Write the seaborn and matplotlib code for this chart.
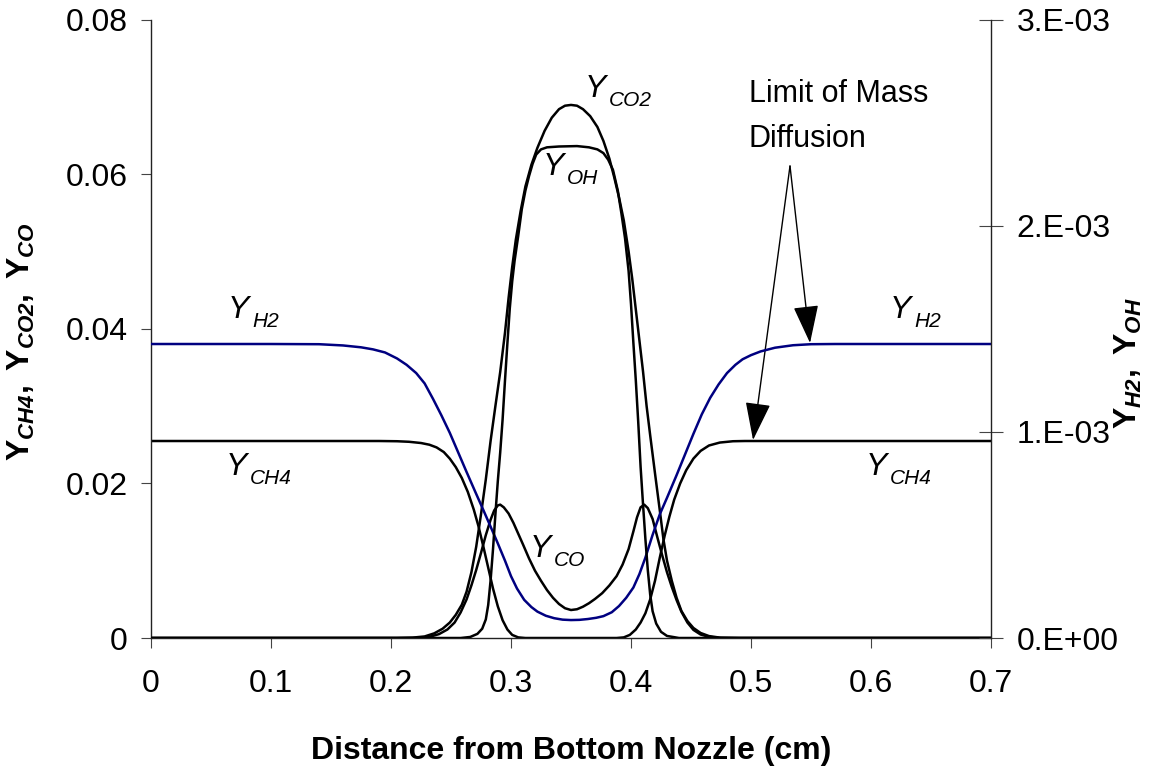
import matplotlib
matplotlib.use("Agg")
import matplotlib.pyplot as plt
import pandas as pd
import seaborn as sns

# ---- profiles across the gap (x in cm) ----
# left axis: mass fractions of CH4, CO2, CO
ch4_x = [0.000, 0.190, 0.205, 0.215, 0.225, 0.232, 0.238, 0.244, 0.249, 0.254, 0.259, 0.264,
         0.269, 0.273, 0.277, 0.281, 0.285, 0.289, 0.293, 0.297, 0.301, 0.306, 0.312,
         0.388, 0.394, 0.399, 0.404, 0.408, 0.412, 0.416, 0.420, 0.424, 0.428, 0.432, 0.436,
         0.441, 0.446, 0.452, 0.458, 0.465, 0.474, 0.485, 0.495, 0.700]
ch4_y = [0.02548, 0.02548, 0.02545, 0.02538, 0.02522, 0.02500, 0.02465, 0.02405, 0.02320,
         0.02210, 0.02070, 0.01890, 0.01660, 0.01440, 0.01180, 0.00910, 0.00640, 0.00410,
         0.00230, 0.00110, 0.00040, 0.00008, 0.0,
         0.0, 0.00008, 0.00040, 0.00110, 0.00200, 0.00320, 0.00500, 0.00740, 0.01040, 0.01320,
         0.01570, 0.01790, 0.02000, 0.02170, 0.02320, 0.02420, 0.02490, 0.02528, 0.02545,
         0.02548, 0.02548]

co2_x = [0.000, 0.205, 0.218, 0.228, 0.236, 0.243, 0.249, 0.254, 0.259, 0.263, 0.267, 0.271,
         0.275, 0.279, 0.283, 0.287, 0.291, 0.295, 0.298, 0.301, 0.304, 0.308, 0.312, 0.317,
         0.322, 0.328, 0.334, 0.340, 0.345, 0.350, 0.355, 0.360, 0.366, 0.372, 0.377, 0.382,
         0.386, 0.390, 0.394, 0.398, 0.401, 0.404, 0.407, 0.410, 0.413, 0.416, 0.420, 0.424,
         0.427, 0.430, 0.434, 0.438, 0.442, 0.447, 0.452, 0.458, 0.465, 0.474, 0.490, 0.700]
co2_y = [0.0, 0.0, 0.00005, 0.00020, 0.00060, 0.00120, 0.00200, 0.00300, 0.00430, 0.00600,
         0.00850, 0.01180, 0.01600, 0.02050, 0.02550, 0.03000, 0.03440, 0.03950, 0.04400,
         0.04800, 0.05150, 0.05520, 0.05840, 0.06120, 0.06340, 0.06560, 0.06730, 0.06840,
         0.06885, 0.06895, 0.06885, 0.06840, 0.06750, 0.06610, 0.06430, 0.06200, 0.05960,
         0.05700, 0.05400, 0.05000, 0.04650, 0.04250, 0.03850, 0.03450, 0.03000, 0.02620,
         0.02130, 0.01650, 0.01280, 0.01000, 0.00740, 0.00520, 0.00350, 0.00220, 0.00130,
         0.00065, 0.00025, 0.00005, 0.0, 0.0]

co_x = [0.000, 0.222, 0.232, 0.240, 0.247, 0.253, 0.258, 0.263, 0.267, 0.271, 0.275, 0.279,
        0.283, 0.286, 0.289, 0.291, 0.294, 0.298, 0.302, 0.306, 0.310, 0.315, 0.320, 0.325,
        0.330, 0.335, 0.340, 0.345, 0.350, 0.355, 0.360, 0.365, 0.370, 0.376, 0.382, 0.388,
        0.393, 0.398, 0.402, 0.405, 0.408, 0.411, 0.414, 0.418, 0.422, 0.426, 0.430, 0.434,
        0.438, 0.442, 0.447, 0.452, 0.458, 0.465, 0.475, 0.700]
co_y = [0.0, 0.0, 0.00015, 0.00050, 0.00110, 0.00200, 0.00330, 0.00500, 0.00680, 0.00880,
        0.01100, 0.01330, 0.01530, 0.01650, 0.01715, 0.01725, 0.01690, 0.01610, 0.01490,
        0.01350, 0.01210, 0.01030, 0.00870, 0.00740, 0.00620, 0.00520, 0.00440, 0.00385,
        0.00362, 0.00372, 0.00405, 0.00450, 0.00505, 0.00580, 0.00680, 0.00800, 0.00950,
        0.01150, 0.01380, 0.01560, 0.01690, 0.01725, 0.01680, 0.01540, 0.01300, 0.01070,
        0.00850, 0.00660, 0.00490, 0.00340, 0.00200, 0.00105, 0.00045, 0.00015, 0.0, 0.0]

# right axis: mass fractions of H2 and OH
h2_x = [0.000, 0.100, 0.140, 0.160, 0.175, 0.185, 0.195, 0.205, 0.213, 0.221, 0.228, 0.235,
        0.242, 0.249, 0.256, 0.263, 0.270, 0.277, 0.283, 0.289, 0.295, 0.300, 0.305, 0.311,
        0.317, 0.322, 0.329, 0.336, 0.343, 0.350, 0.357, 0.364, 0.371, 0.377, 0.384, 0.390,
        0.396, 0.402, 0.407, 0.412, 0.418, 0.424, 0.430, 0.438, 0.445, 0.452, 0.459, 0.466,
        0.473, 0.480, 0.487, 0.493, 0.500, 0.508, 0.520, 0.535, 0.550, 0.570, 0.700]
h2_y = [1.426e-3, 1.426e-3, 1.425e-3, 1.419e-3, 1.410e-3, 1.400e-3, 1.385e-3, 1.356e-3,
        1.325e-3, 1.285e-3, 1.235e-3, 1.160e-3, 1.080e-3, 0.995e-3, 0.900e-3, 0.805e-3,
        0.712e-3, 0.620e-3, 0.540e-3, 0.459e-3, 0.375e-3, 0.300e-3, 0.240e-3, 0.185e-3,
        0.150e-3, 0.128e-3, 0.108e-3, 0.096e-3, 0.089e-3, 0.087e-3, 0.088e-3, 0.092e-3,
        0.098e-3, 0.106e-3, 0.125e-3, 0.155e-3, 0.195e-3, 0.245e-3, 0.310e-3, 0.390e-3,
        0.500e-3, 0.600e-3, 0.680e-3, 0.790e-3, 0.890e-3, 0.990e-3, 1.085e-3, 1.165e-3,
        1.230e-3, 1.285e-3, 1.325e-3, 1.352e-3, 1.372e-3, 1.390e-3, 1.408e-3, 1.420e-3,
        1.425e-3, 1.426e-3, 1.426e-3]

oh_x = [0.000, 0.258, 0.266, 0.272, 0.276, 0.279, 0.281, 0.283, 0.285, 0.287, 0.289, 0.291,
        0.293, 0.295, 0.297, 0.299, 0.301, 0.303, 0.306, 0.309, 0.312, 0.315, 0.318, 0.321,
        0.325, 0.330, 0.340, 0.355, 0.365, 0.372, 0.377, 0.381, 0.385, 0.389, 0.392, 0.395,
        0.398, 0.400, 0.402, 0.404, 0.406, 0.408, 0.410, 0.412, 0.414, 0.416, 0.418, 0.421,
        0.425, 0.430, 0.440, 0.700]
oh_y = [0.0, 0.0, 0.005e-3, 0.020e-3, 0.045e-3, 0.090e-3, 0.160e-3, 0.280e-3, 0.430e-3,
        0.600e-3, 0.760e-3, 0.900e-3, 1.060e-3, 1.250e-3, 1.430e-3, 1.600e-3, 1.730e-3,
        1.830e-3, 1.950e-3, 2.080e-3, 2.170e-3, 2.240e-3, 2.300e-3, 2.345e-3, 2.370e-3,
        2.380e-3, 2.384e-3, 2.386e-3, 2.380e-3, 2.370e-3, 2.352e-3, 2.320e-3, 2.270e-3,
        2.170e-3, 2.060e-3, 1.940e-3, 1.780e-3, 1.620e-3, 1.430e-3, 1.250e-3, 1.050e-3,
        0.830e-3, 0.650e-3, 0.480e-3, 0.330e-3, 0.210e-3, 0.130e-3, 0.070e-3, 0.030e-3,
        0.010e-3, 0.0, 0.0]

# ---- axes ticks ----
x_ticks = [0, 0.1, 0.2, 0.3, 0.4, 0.5, 0.6, 0.7]
x_tick_labels = ["0", "0.1", "0.2", "0.3", "0.4", "0.5", "0.6", "0.7"]
left_ticks = [0, 0.02, 0.04, 0.06, 0.08]
left_tick_labels = ["0", "0.02", "0.04", "0.06", "0.08"]
right_ticks = [0, 1e-3, 2e-3, 3e-3]
right_tick_labels = ["0.E+00", "1.E-03", "2.E-03", "3.E-03"]

# ---- curve labels: (x, y, subscript) ----
species_labels = [
    (0.3617, 0.06998, "CO2"),
    (0.3267, 0.05989, "OH"),
    (0.3158, 0.01048, "CO"),
    (0.0642, 0.04139, "H2"),
    (0.0625, 0.02108, "CH4"),
    (0.6158, 0.04139, "H2"),
    (0.5958, 0.02108, "CH4"),
]

sns.set_style("ticks")
plt.rcParams["font.family"] = ["Liberation Sans", "DejaVu Sans"]
plt.rcParams["mathtext.fontset"] = "custom"
plt.rcParams["mathtext.rm"] = "Liberation Sans"
plt.rcParams["mathtext.it"] = "Liberation Sans:italic"
plt.rcParams["mathtext.bf"] = "Liberation Sans:bold"
plt.rcParams["mathtext.bfit"] = "Liberation Sans:bold:italic"
plt.rcParams["axes.linewidth"] = 1.0
for key in ("text.color", "axes.labelcolor", "xtick.labelcolor", "ytick.labelcolor"):
    plt.rcParams[key] = "black"

left_df = pd.concat([
    pd.DataFrame({"x": ch4_x, "y": ch4_y, "species": "CH4"}),
    pd.DataFrame({"x": co2_x, "y": co2_y, "species": "CO2"}),
    pd.DataFrame({"x": co_x, "y": co_y, "species": "CO"}),
], ignore_index=True)
h2_df = pd.DataFrame({"x": h2_x, "y": h2_y})
oh_df = pd.DataFrame({"x": oh_x, "y": oh_y})

fig = plt.figure(figsize=(11.55, 7.72), dpi=100)
ax = fig.add_axes([151 / 1155, 134 / 772, 840 / 1155, 618.5 / 772])
ax2 = ax.twinx()

line_kw = dict(linewidth=1.8, solid_joinstyle="round", solid_capstyle="round")
sns.lineplot(data=left_df, x="x", y="y", units="species", estimator=None, sort=False,
             color="black", ax=ax, **line_kw)
sns.lineplot(data=h2_df, x="x", y="y", estimator=None, sort=False, color="#000080", ax=ax2, **line_kw)
sns.lineplot(data=oh_df, x="x", y="y", estimator=None, sort=False, color="black", ax=ax2, **line_kw)

ax.set_xlim(0, 0.7)
ax.set_ylim(0, 0.08)
ax2.set_ylim(0, 3e-3)

ax.set_xticks(x_ticks, x_tick_labels)
ax.set_yticks(left_ticks, left_tick_labels)
ax2.set_yticks(right_ticks, right_tick_labels)

for a in (ax, ax2):
    a.spines["top"].set_visible(False)
    for s in a.spines.values():
        s.set_color("#222222")
ax.spines["right"].set_visible(False)
ax2.spines["left"].set_visible(False)
ax2.spines["bottom"].set_visible(False)

ax.tick_params(axis="x", direction="out", length=7, width=0.8, pad=15, labelsize=23, color="#444444")
ax.tick_params(axis="y", direction="out", length=7, width=0.8, pad=10, labelsize=23, color="#444444")
ax2.tick_params(axis="y", direction="inout", length=17, width=0.8, pad=10, labelsize=23, color="#444444")

ax.set_xlabel("Distance from Bottom Nozzle (cm)", fontsize=23, fontweight="bold", labelpad=27)
ax.set_ylabel(r"$\mathbf{Y}_{\mathbfit{CH4}}\mathbf{,\ Y}_{\mathbfit{CO2}}\mathbf{,\ Y}_{\mathbfit{CO}}$",
              fontsize=23)
ax.yaxis.set_label_coords(-0.1357, 0.479)
ax2.set_ylabel(r"$\mathbf{Y}_{\mathbfit{H2}}\mathbf{,\ Y}_{\mathbfit{OH}}$", fontsize=23)
ax2.yaxis.set_label_coords(1.1452, 0.445)

# species names next to the curves
for lx, ly, sub in species_labels:
    ax.text(lx, ly, "Y", style="italic", fontsize=23, ha="left", va="baseline")
    ax.annotate(sub, xy=(lx, ly), xytext=(17.3, -6.5), textcoords="offset points",
                style="italic", fontsize=15, ha="left", va="baseline")

# mass diffusion limit callout
ax.text(0.498, 0.0693, "Limit of Mass", fontsize=22, ha="left", va="baseline")
ax.text(0.498, 0.0635, "Diffusion", fontsize=22, ha="left", va="baseline")
arrow_kw = dict(arrowstyle="-|>,head_length=1.2,head_width=0.4", mutation_scale=20,
                lw=1.0, color="black", shrinkA=0, shrinkB=0)
ax.annotate("", xy=(0.5492, 0.03816), xytext=(0.5325, 0.06105), arrowprops=arrow_kw)
ax.annotate("", xy=(0.5017, 0.02561), xytext=(0.5325, 0.06105), arrowprops=arrow_kw)

fig.savefig("out.png", dpi=100, facecolor="white")
